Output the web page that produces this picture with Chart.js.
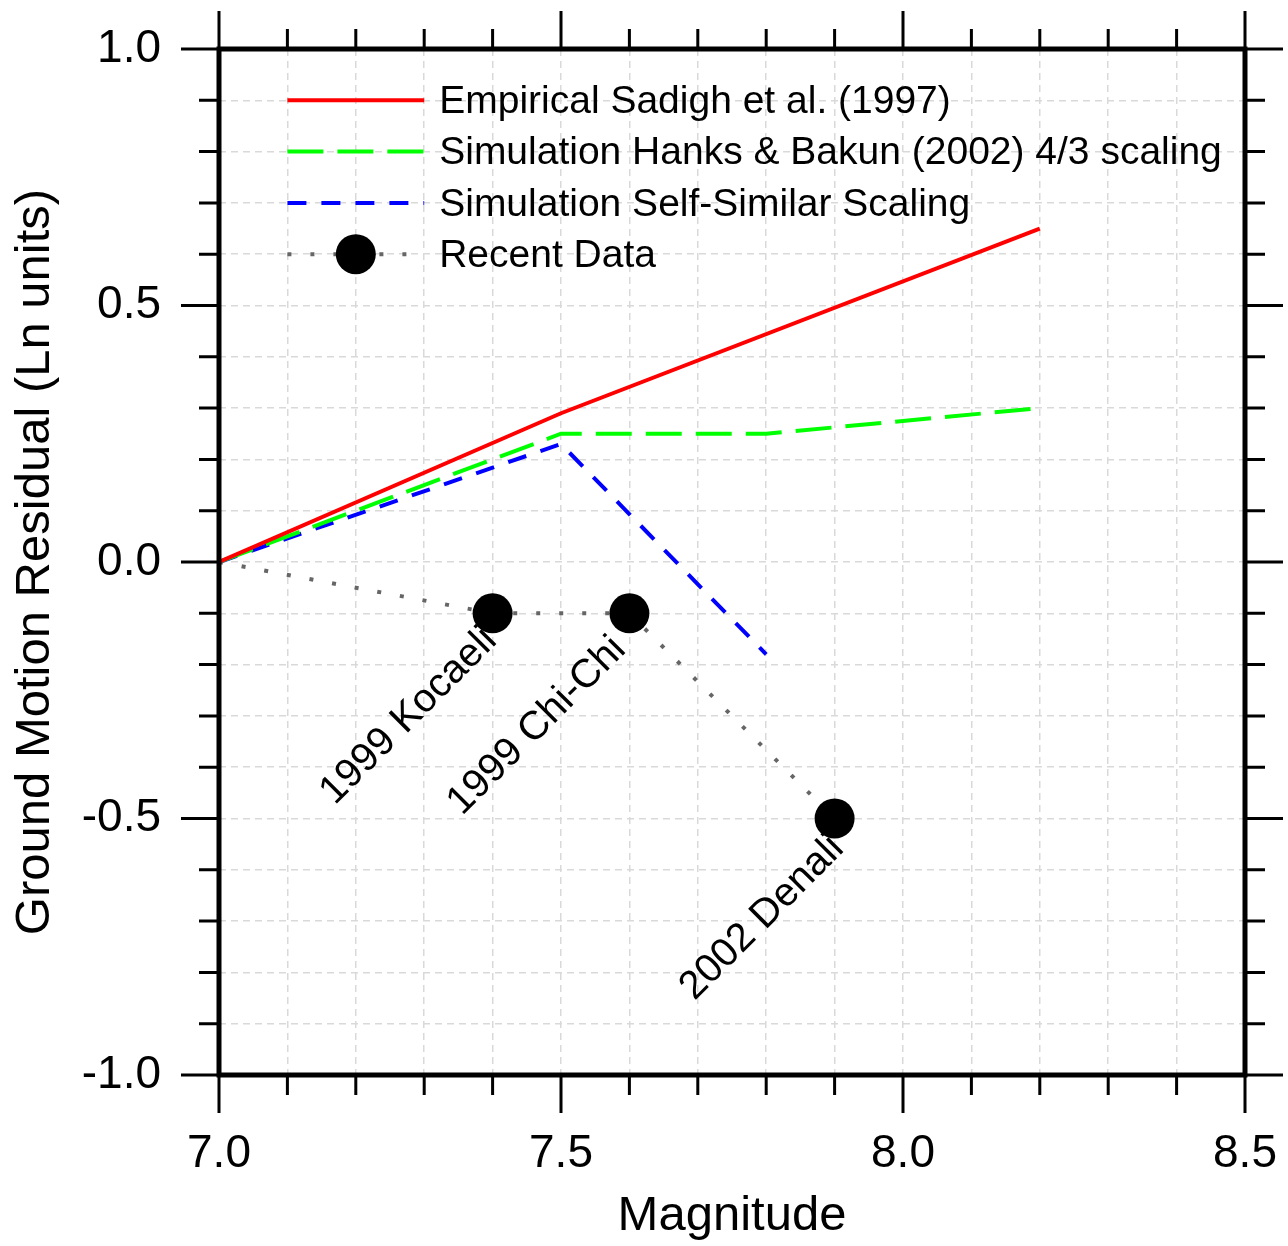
<!DOCTYPE html>
<html>
<head>
<meta charset="utf-8">
<script src="https://cdn.jsdelivr.net/npm/chart.js@4.4.1/dist/chart.umd.min.js"></script>
<style>
  html, body { margin: 0; padding: 0; background: #ffffff; }
  #wrap { width: 1288px; height: 1246px; position: relative; }
</style>
</head>
<body>
<div id="wrap"><canvas id="c"></canvas></div>
<script>
// ---- Data ----
const seriesNames = [
  'Empirical Sadigh et al. (1997)',
  'Simulation Hanks & Bakun (2002) 4/3 scaling',
  'Simulation Self-Similar Scaling',
  'Recent Data'
];
const empiricalMag = [7.0, 7.5, 8.2];
const empiricalRes = [0.0, 0.29, 0.65];
const hanksMag = [7.0, 7.5, 7.8, 8.2];
const hanksRes = [0.0, 0.25, 0.25, 0.30];
const selfSimMag = [7.0, 7.5, 7.8];
const selfSimRes = [0.0, 0.23, -0.18];
const recentMag = [7.0, 7.4, 7.6, 7.9];
const recentRes = [0.0, -0.10, -0.10, -0.50];
const recentNames = ['', '1999 Kocaeli', '1999 Chi-Chi', '2002 Denali'];
const xTickLabels = ['7.0', '7.5', '8.0', '8.5'];
const yTickLabels = ['-1.0', '-0.5', '0.0', '0.5', '1.0'];

const pts = (xs, ys) => xs.map((x, i) => ({ x: x, y: ys[i] }));
const FONT = '"Liberation Sans", Arial, Helvetica, sans-serif';

function isMajor(v) { return Math.abs(v * 2 - Math.round(v * 2)) < 1e-6; }
function fmt(v, list) {
  if (!isMajor(v)) return '';
  const s = (Math.round(v * 10) / 10).toFixed(1);
  return list.indexOf(s) >= 0 ? s : '';
}
function zeroPad(s) { s.paddingTop = 0; s.paddingBottom = 0; s.paddingLeft = 0; s.paddingRight = 0; }

// label placement style (pixel nudges relative to each point)
const LABEL_NUDGE = [[0, 0], [-2, 21], [-10, 30], [3, 24]];

const framePlugin = {
  id: 'framePlugin',
  afterDraw(chart) {
    const ctx = chart.ctx;
    const a = chart.chartArea;
    const xs = chart.scales.x, ys = chart.scales.y;
    ctx.save();
    // ticks on all four sides, pointing outwards
    ctx.strokeStyle = '#000';
    ctx.lineWidth = 3;
    ctx.lineCap = 'butt';
    for (let k = 0; k <= 15; k++) {
      const v = 7.0 + k * 0.1;
      const px = xs.getPixelForValue(v);
      const len = isMajor(v) ? 38 : 20;
      ctx.beginPath();
      ctx.moveTo(px, a.bottom); ctx.lineTo(px, a.bottom + len);
      ctx.moveTo(px, a.top); ctx.lineTo(px, a.top - len);
      ctx.stroke();
    }
    for (let k = 0; k <= 20; k++) {
      const v = -1.0 + k * 0.1;
      const py = ys.getPixelForValue(v);
      const len = isMajor(v) ? 38 : 20;
      ctx.beginPath();
      ctx.moveTo(a.left, py); ctx.lineTo(a.left - len, py);
      ctx.moveTo(a.right, py); ctx.lineTo(a.right + len, py);
      ctx.stroke();
    }
    // frame
    ctx.lineWidth = 5;
    ctx.strokeRect(a.left, a.top, a.right - a.left, a.bottom - a.top);

    // legend inside the plot
    const ds = chart.data.datasets;
    const x0 = xs.getPixelForValue(7.1), x1 = xs.getPixelForValue(7.3);
    ctx.font = '39px ' + FONT;
    ctx.textAlign = 'left';
    ctx.textBaseline = 'middle';
    for (let i = 0; i < ds.length; i++) {
      const y = ys.getPixelForValue(0.9 - 0.1 * i);
      ctx.save();
      ctx.strokeStyle = ds[i].borderColor;
      ctx.lineWidth = ds[i].borderWidth;
      ctx.setLineDash(ds[i].borderDash || []);
      ctx.beginPath(); ctx.moveTo(x0, y); ctx.lineTo(x1, y); ctx.stroke();
      ctx.restore();
      if (i === 3) {
        ctx.beginPath();
        ctx.fillStyle = '#000';
        ctx.arc((x0 + x1) / 2, y, 20, 0, Math.PI * 2);
        ctx.fill();
      }
      ctx.fillStyle = '#000';
      ctx.fillText(seriesNames[i], x1 + 15, y + 2);
    }

    // rotated event labels
    ctx.font = '40px ' + FONT;
    ctx.textAlign = 'right';
    ctx.textBaseline = 'middle';
    ctx.fillStyle = '#000';
    for (let i = 0; i < recentMag.length; i++) {
      if (!recentNames[i]) continue;
      const px = xs.getPixelForValue(recentMag[i]);
      const py = ys.getPixelForValue(recentRes[i]);
      ctx.save();
      ctx.translate(px + LABEL_NUDGE[i][0], py + LABEL_NUDGE[i][1]);
      ctx.rotate(-Math.PI / 4);
      ctx.fillText(recentNames[i], 0, 0);
      ctx.restore();
    }
    ctx.restore();
  }
};

new Chart(document.getElementById('c'), {
  type: 'line',
  data: {
    datasets: [
      { label: seriesNames[0], data: pts(empiricalMag, empiricalRes), borderColor: '#ff0000', borderWidth: 4, pointRadius: 0, fill: false },
      { label: seriesNames[1], data: pts(hanksMag, hanksRes), borderColor: '#00ff00', borderWidth: 4, borderDash: [36, 14], pointRadius: 0, fill: false },
      { label: seriesNames[2], data: pts(selfSimMag, selfSimRes), borderColor: '#0000ff', borderWidth: 4, borderDash: [19, 15], pointRadius: 0, fill: false },
      { label: seriesNames[3], data: pts(recentMag, recentRes), borderColor: '#666666', borderWidth: 4, borderDash: [4, 19],
        pointRadius: recentMag.map((m, i) => recentNames[i] ? 20 : 0), pointBackgroundColor: '#000', pointBorderWidth: 0, pointBorderColor: '#000', fill: false }
    ]
  },
  options: {
    responsive: true,
    maintainAspectRatio: false,
    animation: false,
    events: [],
    layout: { padding: { left: 0, top: 49, right: 43, bottom: 0 } },
    plugins: { legend: { display: false }, tooltip: { enabled: false } },
    scales: {
      x: {
        type: 'linear', min: 7.0, max: 8.5,
        afterFit(s) { s.height = 171; zeroPad(s); },
        afterBuildTicks(s) { s.ticks = Array.from({ length: 16 }, (_, k) => ({ value: Math.round((7.0 + k * 0.1) * 10) / 10 })); },
        ticks: { stepSize: 0.1, autoSkip: false, maxRotation: 0, padding: 52, color: '#000', font: { family: FONT, size: 46 }, callback: v => fmt(v, xTickLabels) },
        grid: { color: '#d9d9d9', lineWidth: 1.5, drawTicks: false },
        border: { display: false, dash: [7, 5] },
        title: { display: true, text: 'Magnitude', color: '#000', font: { family: FONT, size: 49 }, padding: { top: 0, bottom: 0 } }
      },
      y: {
        type: 'linear', min: -1.0, max: 1.0,
        afterFit(s) { s.width = 219; zeroPad(s); },
        afterBuildTicks(s) { s.ticks = Array.from({ length: 21 }, (_, k) => ({ value: Math.round((-1.0 + k * 0.1) * 10) / 10 })); },
        ticks: { stepSize: 0.1, autoSkip: false, padding: 58, color: '#000', font: { family: FONT, size: 46 }, callback: v => fmt(v, yTickLabels) },
        grid: { color: '#d9d9d9', lineWidth: 1.5, drawTicks: false },
        border: { display: false, dash: [7, 5] },
        title: { display: true, text: 'Ground Motion Residual (Ln units)', color: '#000', font: { family: FONT, size: 49 }, padding: { top: 6, bottom: 0 } }
      }
    }
  },
  plugins: [framePlugin]
});
</script>
</body>
</html>
